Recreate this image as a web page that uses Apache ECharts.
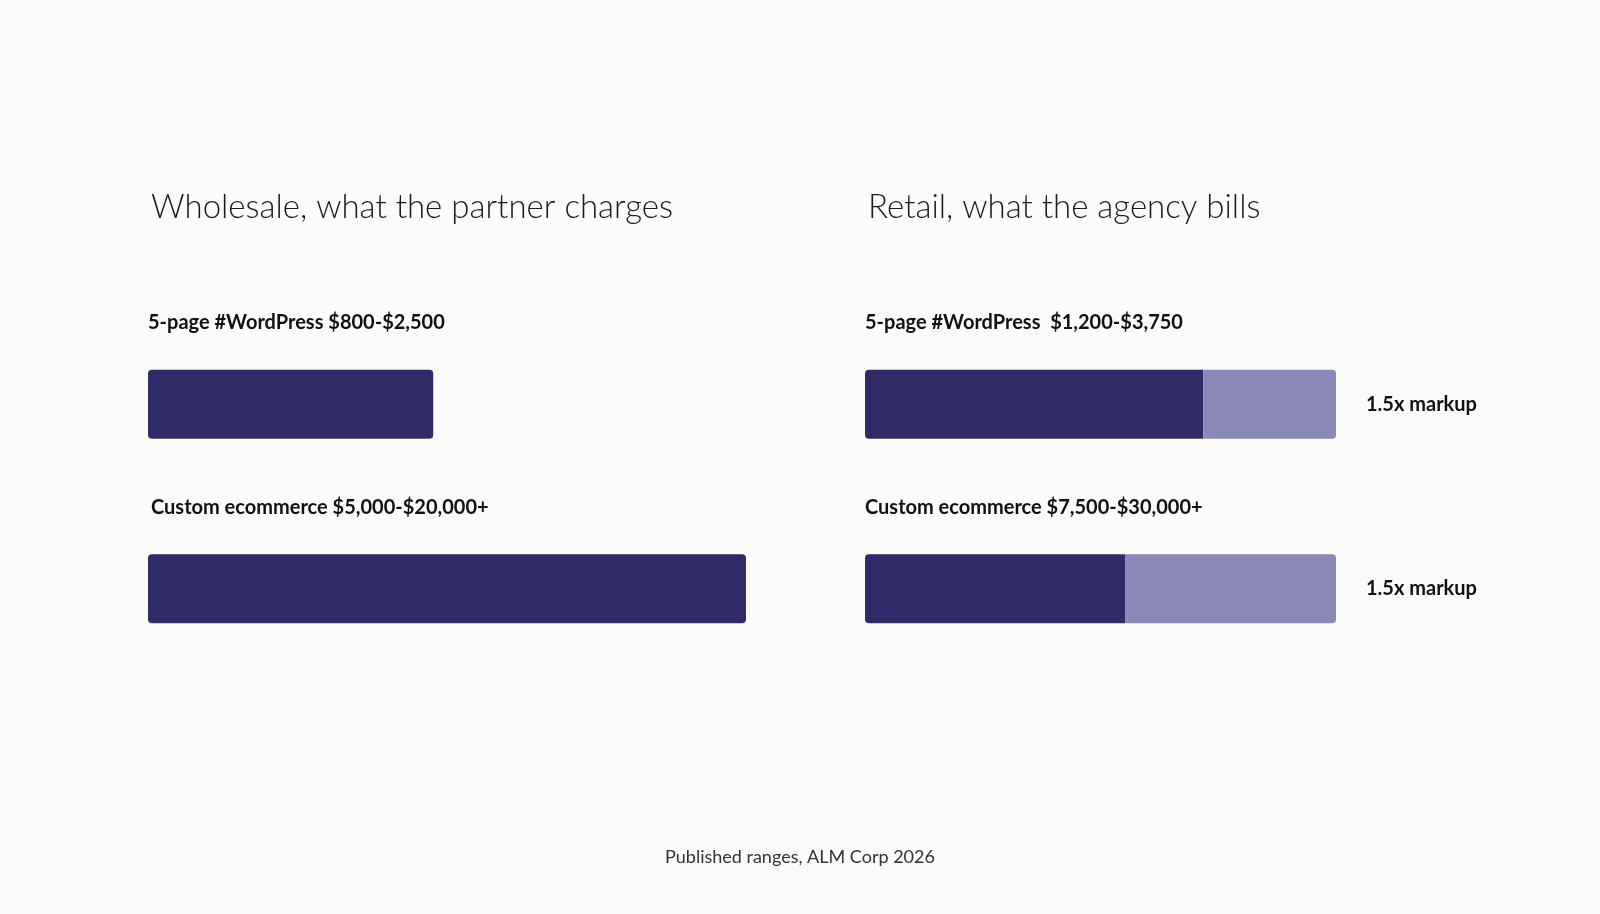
<!DOCTYPE html>
<html>
<head>
<meta charset="utf-8">
<script src="https://cdn.jsdelivr.net/npm/echarts@6/dist/echarts.min.js"></script>
<style>
  html, body { margin: 0; padding: 0; background: #fbfbf9; }
  #chart { width: 1600px; height: 914px; }
</style>
</head>
<body>
<div id="chart"></div>
<script>
// categories and labels
var categories = ['5-page #WordPress', 'Custom ecommerce'];
var wholesaleLabels = ['5-page #WordPress $800-$2,500', 'Custom ecommerce $5,000-$20,000+'];
var retailLabels = ['5-page #WordPress  $1,200-$3,750', 'Custom ecommerce $7,500-$30,000+'];
var markupLabels = ['1.5x markup', '1.5x markup'];

// bar lengths (relative, 0-100)
var wholesale = [47.7, 100];
var retailBase = [71.8, 55.2];
var retailMarkup = [28.2, 44.8];

var dark = '#312a68';
var light = '#8b89b8';

var chart = echarts.init(document.getElementById('chart'));

var labelFont = { fontFamily: 'Lato', fontWeight: 'bold', fontSize: 20, fill: '#111' };

var option = {
    backgroundColor: '#fbfbf9',
    animation: false,
    title: [
        { text: 'Wholesale, what the partner charges', left: 146, top: 186,
          textStyle: { fontFamily: 'Lato', fontWeight: 300, fontSize: 33, color: '#1a1a1a' } },
        { text: 'Retail, what the agency bills', left: 863, top: 186,
          textStyle: { fontFamily: 'Lato', fontWeight: 300, fontSize: 33, color: '#1a1a1a' } },
        { text: 'Published ranges, ALM Corp 2026', left: 'center', top: 843,
          textStyle: { fontFamily: 'Lato', fontWeight: 'normal', fontSize: 18, color: '#333' } }
    ],
    graphic: [
        { type: 'text', left: 148, top: 313, style: Object.assign({ text: wholesaleLabels[0] }, labelFont) },
        { type: 'text', left: 151, top: 498, style: Object.assign({ text: wholesaleLabels[1] }, labelFont) },
        { type: 'text', left: 865, top: 313, style: Object.assign({ text: retailLabels[0] }, labelFont) },
        { type: 'text', left: 865, top: 498, style: Object.assign({ text: retailLabels[1] }, labelFont) }
    ],
    grid: [
        { left: 148, width: 598, top: 312, height: 369 },
        { left: 865, width: 471, top: 312, height: 369 }
    ],
    xAxis: [
        { gridIndex: 0, type: 'value', min: 0, max: 100, show: false },
        { gridIndex: 1, type: 'value', min: 0, max: 100, show: false }
    ],
    yAxis: [
        { gridIndex: 0, type: 'category', data: categories, inverse: true, show: false },
        { gridIndex: 1, type: 'category', data: categories, inverse: true, show: false }
    ],
    series: [
        {
            type: 'bar', xAxisIndex: 0, yAxisIndex: 0, data: wholesale, barWidth: 69,
            itemStyle: { color: dark, borderRadius: 4 }
        },
        {
            type: 'bar', xAxisIndex: 1, yAxisIndex: 1, stack: 'r', data: retailBase, barWidth: 69,
            itemStyle: { color: dark, borderRadius: [4, 0, 0, 4] }
        },
        {
            type: 'bar', xAxisIndex: 1, yAxisIndex: 1, stack: 'r', data: retailMarkup, barWidth: 69,
            itemStyle: { color: light, borderRadius: [0, 4, 4, 0] },
            label: {
                show: true, position: 'right', distance: 30,
                formatter: function (p) { return markupLabels[p.dataIndex]; },
                fontFamily: 'Lato', fontWeight: 'bold', fontSize: 20, color: '#111'
            }
        }
    ]
};

chart.setOption(option);
</script>
</body>
</html>
